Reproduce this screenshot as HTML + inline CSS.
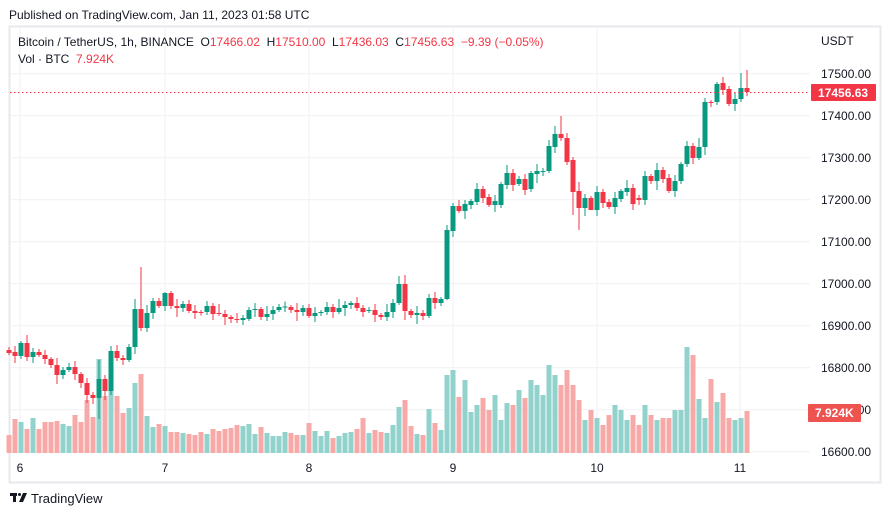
<!DOCTYPE html>
<html><head><meta charset="utf-8"><style>
html,body{margin:0;padding:0;background:#fff;width:891px;height:517px;overflow:hidden;font-family:"Liberation Sans",sans-serif}
text{white-space:pre}
</style></head><body>
<svg id="s" width="891" height="517" xmlns="http://www.w3.org/2000/svg" font-family="Liberation Sans, sans-serif">
<rect x="0" y="0" width="891" height="517" fill="#fff"/>
<text x="9" y="19" font-size="12" fill="#131722">Published on TradingView.com, Jan 11, 2023 01:58 UTC</text>
<rect x="9.5" y="26.5" width="871" height="456" fill="none" stroke="#e6e8ee" stroke-width="2"/>
<g id="grid" stroke="#f0f1f4" stroke-width="1"></g>
<g id="vol"></g>
<g id="cdl"></g>
<line x1="10" x2="810" y1="92.5" y2="92.5" stroke="#f23645" stroke-dasharray="1.5,2.5"/>
<g font-size="12" fill="#131722" id="ax"></g>
<text x="821" y="45" font-size="12" fill="#131722">USDT</text>
<rect x="811" y="84" width="65" height="17" rx="1" fill="#f23645"/>
<text x="818" y="97" font-size="12" font-weight="bold" fill="#fff">17456.63</text>
<rect x="808" y="404" width="53" height="18" rx="1" fill="#ef5350"/>
<text x="815" y="417" font-size="12" font-weight="bold" fill="#fff">7.924K</text>
<text x="18" y="46" font-size="12" fill="#131722">Bitcoin / TetherUS, 1h, BINANCE  O<tspan fill="#f23645">17466.02</tspan>  H<tspan fill="#f23645">17510.00</tspan>  L<tspan fill="#f23645">17436.03</tspan>  C<tspan fill="#f23645">17456.63</tspan>  <tspan fill="#f23645">−9.39 (−0.05%)</tspan></text>
<text x="18" y="63" font-size="12" fill="#131722">Vol · BTC  <tspan fill="#f23645">7.924K</tspan></text>
<g fill="#131722">
<rect x="10" y="493" width="7" height="3"/><rect x="13" y="493" width="3" height="9"/>
<polygon points="23,493 27,493 23,502 19,502"/>
<circle cx="19.5" cy="494.5" r="1.5"/>
</g>
<text x="31" y="503" font-size="13" fill="#131722">TradingView</text>
</svg>
<script>
(function(){
var NS="http://www.w3.org/2000/svg";
function el(p,t,a){var e=document.createElementNS(NS,t);for(var k in a)e.setAttribute(k,a[k]);document.getElementById(p).appendChild(e);return e;}
for(var i=0;i<10;i++){var y=73.7+i*42;el('grid','line',{x1:10,x2:810,y1:y,y2:y});var t=el('ax','text',{x:821,y:y+4.5});t.textContent=(17500-i*100).toFixed(2);}
var days=[[20,'6'],[165,'7'],[309,'8'],[453,'9'],[597,'10'],[740,'11']];
days.forEach(function(d){el('grid','line',{x1:d[0],x2:d[0],y1:28,y2:453});var t=el('ax','text',{x:d[0],y:472,'text-anchor':'middle'});t.textContent=d[1];});
var C=[[350,353],[352,356],[356,343],[343,357],[357,352],[352,355],[355,359],[359,365],[365,375],[375,370],[370,367],[367,374],[374,383],[383,395],[395,398],[398,379],[379,391],[391,351],[351,358],[358,360],[360,347],[347,309],[309,328],[328,313],[313,301],[301,306],[306,293],[293,306],[306,308],[308,304],[304,311],[311,313],[312,312.5],[312,306],[306,314],[313,314],[314,317],[317,319],[319,320],[320,318],[319,310],[310,309],[309,317],[317,314],[314,310],[310,307],[307,306.5],[307,310],[310,312],[312,308],[308,316],[316,313],[313,312],[312,307],[307,312],[312,308],[308,305],[305,303],[303,308],[308,312],[311,310],[310,315],[315,317],[317,312],[312,303],[303,284],[284,311],[311,315],[315,313],[313,316],[316,298],[298,303],[303,299],
[299,230],[231,206],[206,211],[211,204],[205,201],[202,189],[189,198],[197,205],[205,201],[205,184],[185,173],[173,185],[184,179],[179,190],[189,173],[174,171],[172,171],[171,146],[147,134],[134,138],[138,162],[160,192],[191,208],[208,198],[198,210],[210,192],[192,203],[202,207],[207,198],[199,191],[192,188],[188,204],[198,200],[200,176],[176,181],[181,170],[170,179],[178,191],[191,181],[181,164],[164,146],[146,158],[158,147],[147,102],[102,103],[102,84],[83,90],[89,104],[104,99],[99,88],[88,92]];
var V=[435,419,422,429,418,429,422,422,421,424,426,415,422,400,417,359,396,391,396,413,408,383,374,416,427,424,426,432,432,433,434,435,432,434,429,431,429,428,425,426,424,434,427,433,436,436,432,433,435,435,423,431,436,431,438,436,433,432,429,418,433,430,432,433,425,407,400,426,434,435,409,423,430,
375,370,397,380,412,405,398,410,395,420,403,405,390,398,380,385,395,365,375,385,370,385,400,420,410,418,425,415,405,410,420,415,425,405,415,420,418,418,410,410,347,355,399,418,379,402,393,418,420,418,411,414];
var W=[3,6,2,8,4,3,5,2,7,3,4,6,2,5,3,9,4,2,6,3];
var hiO={22:267,21:299,15:360,24:298,26:292,17:346,65:276,66:275,75:200,90:140,91:126,92:116,123:70,122:73,119:77,118:82};
var loO={15:419,16:400,13:403,12:388,66:320,94:215,95:230,98:216,97:205,73:300,105:205};
var N=C.length;
for(var i=0;i<N;i++){
 var x=747-6*(N-1-i);var o=C[i][0],c=C[i][1];var up=c<=o;
 var col=up?'#089981':'#f23645';var vc=up?'#92d2cc':'#f7a9a7';
 var v=V[i]||430;el('vol','rect',{x:x-2.5,y:v,width:5,height:453-v,fill:vc});
 var bt=Math.min(o,c),bb=Math.max(o,c);
 var hi=(hiO[i]!==undefined)?hiO[i]:bt-W[i%20];var lo=(loO[i]!==undefined)?loO[i]:bb+W[(i+7)%20];
 el('cdl','line',{x1:x,x2:x,y1:hi,y2:lo,stroke:col,'stroke-width':1});
 el('cdl','rect',{x:x-2.5,y:bt,width:5,height:Math.max(1,bb-bt),fill:col});
}
})();
</script>
</body></html>
